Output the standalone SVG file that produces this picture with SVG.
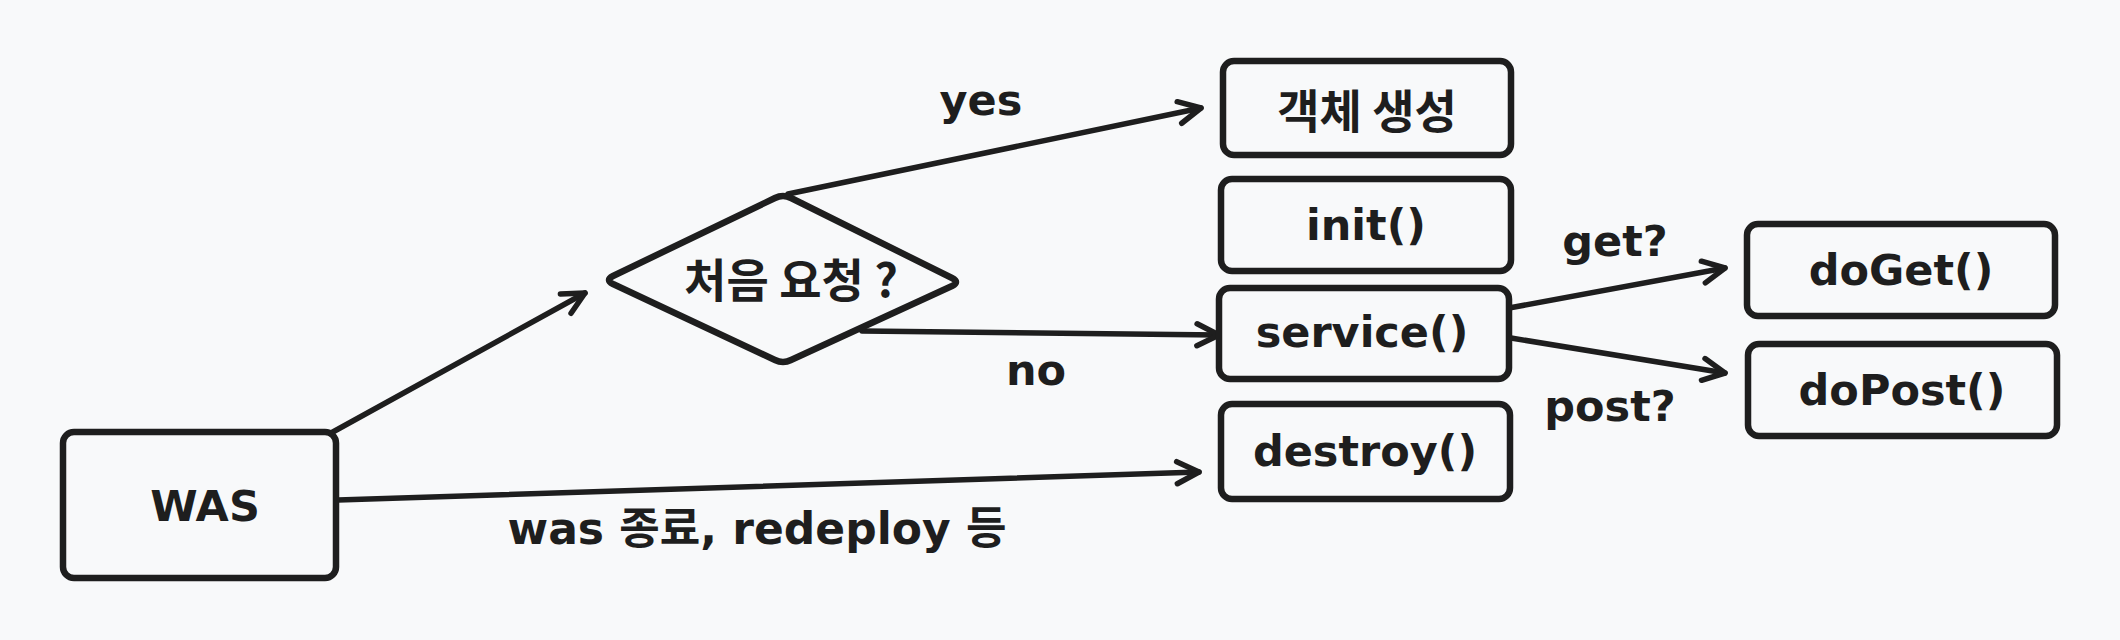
<svg xmlns="http://www.w3.org/2000/svg" width="2120" height="640" viewBox="0 0 2120 640">
<style>
.box{fill:none;stroke:#1e1e1e;stroke-width:6.5;stroke-linejoin:round}
.edge{fill:none;stroke:#1e1e1e;stroke-width:5.5;stroke-linecap:round}
.t{font-family:"DejaVu Sans","Noto Sans CJK KR",sans-serif;font-weight:bold;font-size:43px;fill:#1e1e1e;text-anchor:middle;dominant-baseline:central}
.k{font-family:"Noto Sans CJK KR","DejaVu Sans",sans-serif;font-weight:bold;font-size:46px;fill:#1e1e1e;text-anchor:middle;dominant-baseline:central}
</style>
<defs>
<marker id="arr" viewBox="0 0 30 30" refX="26" refY="15" markerWidth="30" markerHeight="30" markerUnits="userSpaceOnUse" orient="auto">
<path d="M4,4 L26,15 L4,26" fill="none" stroke="#1e1e1e" stroke-width="5.5" stroke-linecap="round" stroke-linejoin="round"/>
</marker>
</defs>
<rect width="2120" height="640" fill="#f8f9fa"/>
<g id="connectors">
<line class="edge" x1="331" y1="433" x2="585" y2="293" marker-end="url(#arr)"/>
<line class="edge" x1="788" y1="194" x2="1201" y2="108" marker-end="url(#arr)"/>
<line class="edge" x1="862" y1="331" x2="1219" y2="335" marker-end="url(#arr)"/>
<line class="edge" x1="338" y1="500" x2="1199" y2="472" marker-end="url(#arr)"/>
<line class="edge" x1="1509" y1="308" x2="1725" y2="268" marker-end="url(#arr)"/>
<line class="edge" x1="1511" y1="338" x2="1725" y2="373" marker-end="url(#arr)"/>
<text class="t" x="981" y="100">yes</text>
<text class="t" x="1036" y="370">no</text>
<text class="t" x="757" y="528" style="font-size:44px">was 종료, redeploy 등</text>
<text class="t" x="1615" y="241">get?</text>
<text class="t" x="1610" y="406">post?</text>
</g>
<g id="was">
<rect class="box" x="63" y="432" width="273" height="146" rx="11"/>
<text class="t" x="205" y="506">WAS</text>
</g>
<g id="decision">
<path class="box" d="M613,276 L775,198 Q783,194 791,198 L952,278 Q960,282 952,286 L791,360 Q783,364 775,360 L613,284 Q605,280 613,276 Z"/>
<text class="k" x="791" y="277">처음 요청 ?</text>
</g>
<g id="create">
<rect class="box" x="1223" y="61" width="288" height="94" rx="11"/>
<text class="k" x="1367" y="108">객체 생성</text>
</g>
<g id="init">
<rect class="box" x="1221" y="179" width="290" height="92" rx="11"/>
<text class="t" x="1366" y="225">init()</text>
</g>
<g id="service">
<rect class="box" x="1219" y="288" width="290" height="91" rx="11"/>
<text class="t" x="1362" y="332">service()</text>
</g>
<g id="destroy">
<rect class="box" x="1221" y="404" width="289" height="95" rx="11"/>
<text class="t" x="1365" y="451">destroy()</text>
</g>
<g id="doget">
<rect class="box" x="1747" y="224" width="308" height="92" rx="11"/>
<text class="t" x="1901" y="270">doGet()</text>
</g>
<g id="dopost">
<rect class="box" x="1748" y="344" width="309" height="92" rx="11"/>
<text class="t" x="1902" y="390">doPost()</text>
</g>
</svg>
